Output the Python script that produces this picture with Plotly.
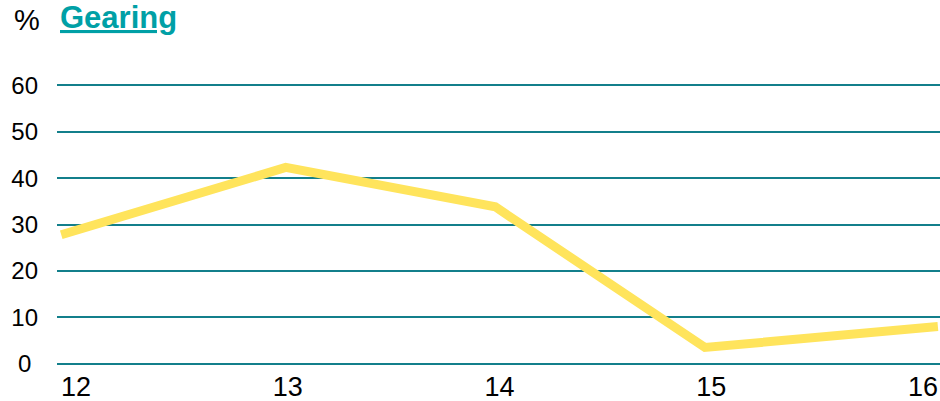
import plotly.graph_objects as go

# Gearing ratio (%) by year
years = [11.93, 12.99, 13.98, 14.97, 16.07]
gearing = [27.8, 42.3, 33.8, 3.5, 8.0]

year_ticks = [12, 13, 14, 15, 16]
year_labels = ["12", "13", "14", "15", "16"]
pct_ticks = [0, 10, 20, 30, 40, 50, 60]
pct_labels = ["0\u00a0", "10", "20", "30", "40", "50", "60"]

TEAL_GRID = "#137F8B"
TEAL_TITLE = "#00A0A6"
YELLOW = "#FFE45C"

fig = go.Figure()
fig.add_trace(go.Scatter(
    x=years, y=gearing, mode="lines",
    line=dict(color=YELLOW, width=9),
    hoverinfo="skip", showlegend=False,
))

fig.update_layout(
    width=940, height=401,
    margin=dict(l=57, r=0, t=83, b=35),
    paper_bgcolor="white", plot_bgcolor="white",
    font=dict(family="Liberation Sans, Arial, sans-serif", color="black"),
    xaxis=dict(
        range=[11.91, 16.08],
        tickmode="array", tickvals=year_ticks, ticktext=year_labels,
        tickfont=dict(size=27), showgrid=False, zeroline=False,
        showline=False, ticks="", ticklabelstandoff=2,
    ),
    yaxis=dict(
        range=[-0.5, 60.5],
        tickmode="array", tickvals=pct_ticks, ticktext=pct_labels,
        tickfont=dict(size=24), showgrid=True, gridcolor=TEAL_GRID,
        gridwidth=2, zeroline=False, showline=False, ticks="",
        ticklabelstandoff=18,
    ),
    annotations=[
        dict(text="%", xref="paper", yref="paper", x=-0.0515, y=1.222,
             xanchor="left", yanchor="middle", showarrow=False,
             font=dict(size=29, color="black")),
        dict(text="<b>Gearing</b>", xref="paper", yref="paper", x=0.0015,
             y=1.232, xanchor="left", yanchor="middle", showarrow=False,
             font=dict(size=31, color=TEAL_TITLE, lineposition="under")),
    ],
)

fig.write_html("out.html")
